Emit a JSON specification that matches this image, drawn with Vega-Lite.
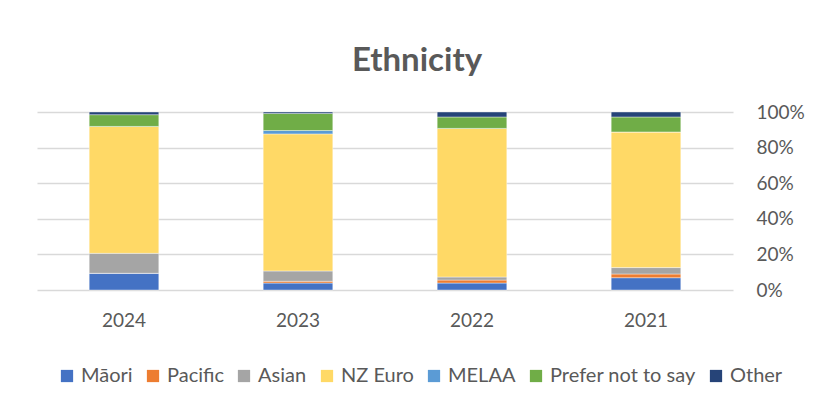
{
  "$schema": "https://vega.github.io/schema/vega-lite/v6.json",
  "autosize": {"type": "none"},
  "width": 696,
  "height": 178,
  "padding": {"left": 37, "top": 112, "right": 83, "bottom": 116},
  "background": "white",
  "title": {"text": "Ethnicity", "fontSize": 33, "fontWeight": "bold", "font": "Lato", "color": "#595959", "offset": 25, "dx": 32, "anchor": "middle"},
  "data": {"values": [
    {"year": "2024", "eth": "Māori", "o": 1, "v": 9.4},
    {"year": "2024", "eth": "Pacific", "o": 2, "v": 0},
    {"year": "2024", "eth": "Asian", "o": 3, "v": 11.2},
    {"year": "2024", "eth": "NZ Euro", "o": 4, "v": 71.3},
    {"year": "2024", "eth": "MELAA", "o": 5, "v": 0},
    {"year": "2024", "eth": "Prefer not to say", "o": 6, "v": 6.6},
    {"year": "2024", "eth": "Other", "o": 7, "v": 1.5},
    {"year": "2023", "eth": "Māori", "o": 1, "v": 3.9},
    {"year": "2023", "eth": "Pacific", "o": 2, "v": 1.0},
    {"year": "2023", "eth": "Asian", "o": 3, "v": 5.8},
    {"year": "2023", "eth": "NZ Euro", "o": 4, "v": 77.0},
    {"year": "2023", "eth": "MELAA", "o": 5, "v": 1.9},
    {"year": "2023", "eth": "Prefer not to say", "o": 6, "v": 9.6},
    {"year": "2023", "eth": "Other", "o": 7, "v": 0.8},
    {"year": "2022", "eth": "Māori", "o": 1, "v": 3.9},
    {"year": "2022", "eth": "Pacific", "o": 2, "v": 1.7},
    {"year": "2022", "eth": "Asian", "o": 3, "v": 1.7},
    {"year": "2022", "eth": "NZ Euro", "o": 4, "v": 83.5},
    {"year": "2022", "eth": "MELAA", "o": 5, "v": 0},
    {"year": "2022", "eth": "Prefer not to say", "o": 6, "v": 6.4},
    {"year": "2022", "eth": "Other", "o": 7, "v": 2.8},
    {"year": "2021", "eth": "Māori", "o": 1, "v": 6.9},
    {"year": "2021", "eth": "Pacific", "o": 2, "v": 2.1},
    {"year": "2021", "eth": "Asian", "o": 3, "v": 3.6},
    {"year": "2021", "eth": "NZ Euro", "o": 4, "v": 76.2},
    {"year": "2021", "eth": "MELAA", "o": 5, "v": 0},
    {"year": "2021", "eth": "Prefer not to say", "o": 6, "v": 8.4},
    {"year": "2021", "eth": "Other", "o": 7, "v": 2.8}
  ]},
  "mark": {"type": "bar", "stroke": "white", "strokeWidth": 0.4},
  "encoding": {
    "x": {"field": "year", "type": "nominal", "sort": ["2024", "2023", "2022", "2021"],
      "scale": {"paddingInner": 0.6, "paddingOuter": 0.3},
      "axis": {"title": null, "labelAngle": 0, "domain": false, "ticks": false, "labelPadding": 21, "labelFontSize": 19, "labelFont": "Lato", "labelColor": "#595959"}},
    "y": {"field": "v", "type": "quantitative", "stack": "normalize",
      "axis": {"orient": "right", "title": null, "format": ".0%", "values": [0, 0.2, 0.4, 0.6, 0.8, 1], "domain": false, "ticks": false, "labelPadding": 23, "labelFontSize": 19, "labelFont": "Lato", "labelColor": "#595959", "gridColor": "#d9d9d9", "gridWidth": 1.5}},
    "color": {"field": "eth", "type": "nominal",
      "scale": {"domain": ["Māori", "Pacific", "Asian", "NZ Euro", "MELAA", "Prefer not to say", "Other"],
        "range": ["#4472C4", "#ED7D31", "#A5A5A5", "#FFD966", "#5B9BD5", "#70AD47", "#264478"]},
      "legend": {"title": null, "orient": "none", "legendX": 20, "legendY": 254, "direction": "horizontal", "columns": 7,
        "symbolType": "square", "symbolSize": 150, "symbolStrokeWidth": 0, "labelFontSize": 20, "labelFont": "Lato", "labelColor": "#595959", "labelOffset": 4, "columnPadding": 10}},
    "order": {"field": "o", "type": "quantitative"}
  },
  "config": {"view": {"stroke": null}}
}
